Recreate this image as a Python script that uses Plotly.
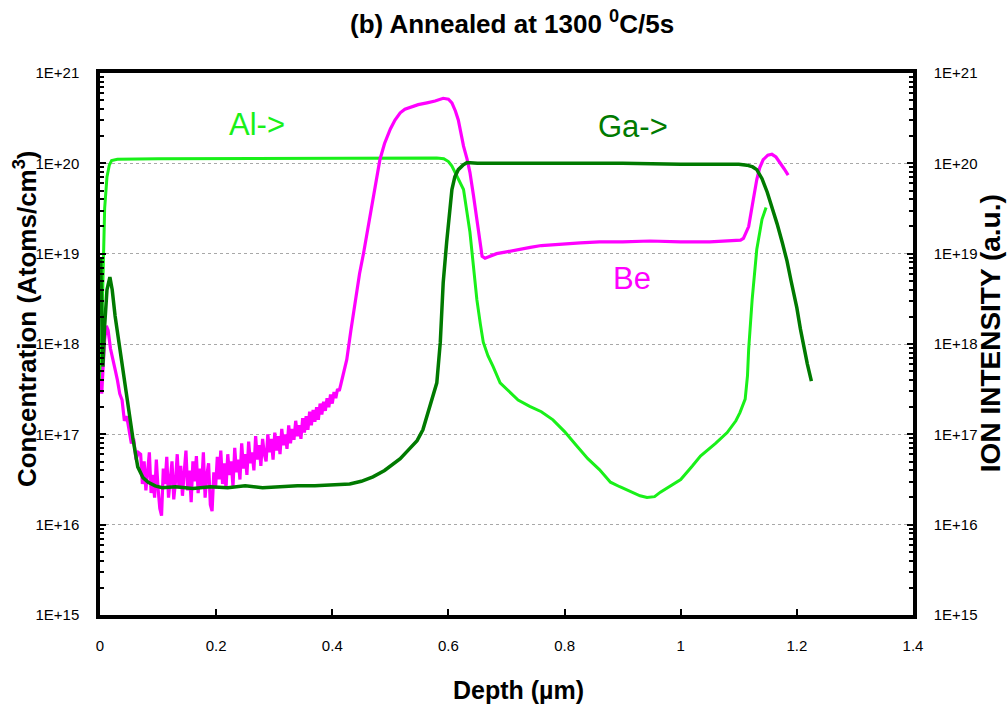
import numpy as np
import plotly.graph_objects as go

# SIMS depth profiles: depth in µm, concentration given as log10(atoms/cm^3)
al_depth = [0.001, 0.003, 0.005, 0.008, 0.012, 0.016, 0.020, 0.030, 0.10, 0.30, 0.50, 0.58,
            0.592, 0.600, 0.606, 0.615, 0.626, 0.637, 0.643, 0.649, 0.655, 0.660, 0.668,
            0.677, 0.689, 0.70, 0.72, 0.74, 0.76, 0.78, 0.80, 0.82, 0.84, 0.86, 0.879,
            0.895, 0.913, 0.930, 0.942, 0.955, 0.965, 0.98, 1.00, 1.02, 1.034, 1.06, 1.08,
            1.095, 1.102, 1.111, 1.115, 1.117, 1.123, 1.131, 1.140, 1.147]
al_log = [17.6, 18.16, 18.9, 19.5, 19.85, 19.98, 20.03, 20.045, 20.05, 20.055, 20.06, 20.06,
          20.05, 20.02, 19.97, 19.86, 19.71, 19.24, 18.85, 18.49, 18.22, 18.02, 17.87,
          17.75, 17.57, 17.50, 17.38, 17.31, 17.25, 17.16, 17.03, 16.88, 16.73, 16.61, 16.47,
          16.42, 16.37, 16.32, 16.30, 16.31, 16.36, 16.42, 16.50, 16.65, 16.76, 16.90, 17.02,
          17.15, 17.24, 17.39, 17.65, 17.94, 18.49, 19.05, 19.38, 19.51]

ga_depth = [0.001, 0.003, 0.005, 0.008, 0.012, 0.017, 0.021, 0.026, 0.034, 0.043, 0.050,
            0.057, 0.065, 0.074, 0.083, 0.095, 0.107, 0.13, 0.16, 0.19, 0.22, 0.25, 0.28,
            0.31, 0.34, 0.37, 0.40, 0.43, 0.45, 0.47, 0.49, 0.517, 0.53, 0.546, 0.556,
            0.563, 0.572, 0.580, 0.586, 0.591, 0.597, 0.602, 0.606, 0.611, 0.617, 0.625,
            0.632, 0.65, 0.70, 0.80, 0.90, 1.00, 1.10, 1.114, 1.124, 1.131, 1.14, 1.149,
            1.157, 1.166, 1.175, 1.183, 1.19, 1.20, 1.206, 1.212, 1.218, 1.225]
ga_log = [18.95, 18.2, 17.75, 18.2, 18.6, 18.74, 18.6, 18.31, 17.95, 17.57, 17.25,
          16.94, 16.64, 16.52, 16.47, 16.43, 16.41, 16.42, 16.40, 16.42, 16.41, 16.43, 16.41,
          16.42, 16.43, 16.43, 16.44, 16.45, 16.48, 16.53, 16.60, 16.73, 16.82, 16.93, 17.05,
          17.20, 17.38, 17.57, 18.02, 18.68, 19.13, 19.45, 19.71, 19.85, 19.93, 19.98,
          20.01, 20.00, 20.00, 20.00, 20.00, 19.99, 19.99, 19.98, 19.96, 19.93, 19.83, 19.68,
          19.52, 19.33, 19.12, 18.92, 18.70, 18.40, 18.17, 17.97, 17.78, 17.59]

be_depth = [0.001, 0.003, 0.005, 0.008, 0.011, 0.014, 0.018, 0.022, 0.026, 0.030, 0.034,
            0.038, 0.042, 0.046, 0.050, 0.054, 0.058, 0.062, 0.066,
            0.070, 0.073, 0.076, 0.079, 0.082, 0.085, 0.088, 0.091, 0.094, 0.097,
            0.100, 0.103, 0.106, 0.109, 0.112, 0.115, 0.118, 0.121, 0.124, 0.127,
            0.130, 0.133, 0.136, 0.139, 0.142, 0.145, 0.148, 0.151, 0.154, 0.157,
            0.160, 0.163, 0.166, 0.169, 0.172, 0.175, 0.178, 0.181, 0.184, 0.187,
            0.190, 0.193, 0.196, 0.199, 0.202, 0.205, 0.208, 0.211, 0.214, 0.217,
            0.220, 0.223, 0.226, 0.229, 0.232, 0.235, 0.238, 0.241, 0.244, 0.247,
            0.250, 0.253, 0.256, 0.259, 0.262, 0.265, 0.268, 0.271, 0.274, 0.277,
            0.280, 0.283, 0.286, 0.289, 0.292, 0.295, 0.298, 0.301, 0.304, 0.307,
            0.310, 0.313, 0.316, 0.319, 0.322, 0.325, 0.328, 0.331, 0.334, 0.337,
            0.340, 0.343, 0.346, 0.349, 0.352, 0.355, 0.358, 0.361, 0.364, 0.367,
            0.370, 0.373, 0.376, 0.379, 0.382, 0.385, 0.388, 0.391, 0.394, 0.397,
            0.400, 0.403, 0.406, 0.409, 0.412, 0.415, 0.418, 0.421, 0.425, 0.432,
            0.440, 0.447, 0.454, 0.461, 0.468, 0.475, 0.482, 0.490, 0.500, 0.508, 0.517,
            0.525, 0.534, 0.548, 0.563, 0.577, 0.591, 0.600, 0.606, 0.612, 0.617, 0.626,
            0.632, 0.637, 0.643, 0.649, 0.654, 0.658, 0.663, 0.670, 0.683, 0.70, 0.72,
            0.741, 0.76, 0.78, 0.80, 0.827, 0.86, 0.90, 0.947, 1.00, 1.05, 1.09, 1.103,
            1.108, 1.112, 1.117, 1.125, 1.131, 1.136, 1.142, 1.150, 1.157, 1.164, 1.171,
            1.178, 1.185]
be_log = [17.6, 17.45, 17.7, 18.05, 18.2, 18.15, 17.95, 17.85, 17.72, 17.6, 17.45,
          17.38, 17.15, 17.2, 17.02, 16.9, 16.95, 16.72, 16.8,
          16.78, 16.45, 16.70, 16.38, 16.62, 16.80, 16.35, 16.55, 16.30, 16.72,
          16.40, 16.18, 16.10, 16.62, 16.45, 16.75, 16.30, 16.55, 16.70, 16.28,
          16.48, 16.78, 16.40, 16.65, 16.32, 16.58, 16.82, 16.38, 16.60, 16.25,
          16.70, 16.48, 16.76, 16.35, 16.62, 16.42, 16.80, 16.30, 16.55, 16.68,
          16.22, 16.15, 16.58, 16.40, 16.75, 16.50, 16.82, 16.45, 16.68, 16.40,
          16.78, 16.55, 16.70, 16.42, 16.85, 16.58, 16.72, 16.50, 16.90, 16.62,
          16.78, 16.55, 16.92, 16.68, 16.80, 16.60, 16.98, 16.72, 16.88, 16.65,
          16.95, 16.78, 16.70, 17.00, 16.80, 16.95, 16.72, 17.02, 16.82, 16.98,
          16.78, 17.06, 16.88, 17.00, 16.84, 17.10, 16.90, 17.06, 16.94, 17.15,
          16.98, 17.10, 16.95, 17.18, 17.02, 17.20, 17.05, 17.25, 17.10, 17.27,
          17.14, 17.30, 17.16, 17.34, 17.22, 17.36, 17.26, 17.40, 17.30, 17.44,
          17.34, 17.47, 17.40, 17.50, 17.48, 17.56, 17.64, 17.72, 17.83, 18.15,
          18.49, 18.78, 19.01, 19.28, 19.52, 19.8, 20.04, 20.22, 20.38, 20.48, 20.56,
          20.60, 20.62, 20.65, 20.67, 20.69, 20.72, 20.71, 20.67, 20.58, 20.48, 20.19,
          20.05, 19.90, 19.65, 19.38, 19.15, 18.97, 18.95, 18.97, 19.00, 19.02, 19.04,
          19.07, 19.09, 19.10, 19.11, 19.12, 19.13, 19.13, 19.14, 19.13, 19.13, 19.14, 19.15,
          19.17, 19.22, 19.30, 19.60, 19.82, 19.95, 20.04, 20.09, 20.10, 20.07, 20.01,
          19.94, 19.87]

decades = [15, 16, 17, 18, 19, 20, 21]
decade_labels = ["1E+15", "1E+16", "1E+17", "1E+18", "1E+19", "1E+20", "1E+21"]
depth_ticks = [0, 0.2, 0.4, 0.6, 0.8, 1, 1.2, 1.4]
depth_labels = ["0", "0.2", "0.4", "0.6", "0.8", "1", "1.2", "1.4"]

FONT = "Arial, Liberation Sans, sans-serif"
AL_COLOR = "#19F019"
GA_COLOR = "#007A00"
BE_COLOR = "#FF00FF"

major_vals = [10.0 ** d for d in decades]
minor_vals = [k * 10.0 ** d for d in decades[:-1] for k in range(2, 10)]

fig = go.Figure()
fig.add_trace(go.Scatter(x=al_depth, y=np.power(10.0, al_log), mode="lines", name="Al",
                         line=dict(color=AL_COLOR, width=3)))
fig.add_trace(go.Scatter(x=be_depth, y=np.power(10.0, be_log), mode="lines", name="Be",
                         line=dict(color=BE_COLOR, width=3.2)))
# Ga is plotted against the right-hand (ion intensity) axis, which shares the same scale
fig.add_trace(go.Scatter(x=ga_depth, y=np.power(10.0, ga_log), mode="lines", name="Ga",
                         line=dict(color=GA_COLOR, width=3.5), yaxis="y2"))

yaxis_common = dict(
    type="log", range=[15, 21],
    tickmode="array", tickvals=major_vals, ticktext=decade_labels,
    ticks="inside", ticklen=6, tickwidth=1.5, tickcolor="black",
    minor=dict(tickmode="array", tickvals=minor_vals, ticks="inside", ticklen=4,
               tickwidth=1.5, tickcolor="black", showgrid=False),
    tickfont=dict(family=FONT, size=15, color="black"),
    showline=True, linecolor="black", linewidth=3.5,
    zeroline=False, fixedrange=True,
)

fig.update_layout(
    width=1008, height=708,
    margin=dict(l=100, r=95, t=73, b=93),
    paper_bgcolor="white", plot_bgcolor="white",
    showlegend=False,
    title=dict(text="<b>(b) Annealed at 1300 <sup>0</sup>C/5s</b>", x=0.508, xanchor="center",
               y=1 - 24 / 708, yanchor="middle", yref="container",
               font=dict(family=FONT, size=26, color="black")),
    xaxis=dict(range=[0, 1.4], tickmode="array", tickvals=depth_ticks,
               ticktext=depth_labels,
               ticks="inside", ticklen=6, tickwidth=1.5, tickcolor="black",
               tickfont=dict(family=FONT, size=15, color="black"),
               showline=True, linecolor="black", linewidth=3.5, mirror=True,
               showgrid=False, zeroline=False, ticklabelstandoff=14),
    yaxis=dict(**yaxis_common, side="left", showgrid=True, gridcolor="#a8a8a8",
               griddash="dot", gridwidth=1, ticklabelstandoff=14),
    yaxis2=dict(**yaxis_common, side="right", overlaying="y", showgrid=False,
                ticklabelstandoff=14),
)

# axis titles
fig.add_annotation(text="<b>Depth (µm)</b>", xref="paper", yref="paper", x=0.515,
                   y=-75 / 542, yanchor="middle", showarrow=False,
                   font=dict(family=FONT, size=25, color="black"))
fig.add_annotation(text="<b>Concentration (Atoms/cm<sup>3</sup>)</b>", xref="paper",
                   yref="paper", x=-75 / 813, y=0.546, xanchor="center", yanchor="middle",
                   textangle=-90, showarrow=False,
                   font=dict(family=FONT, size=26, color="black"))
fig.add_annotation(text="<b>ION INTENSITY (a.u.)</b>", xref="paper", yref="paper",
                   x=1 + 77 / 813, y=0.52, xanchor="center", yanchor="middle",
                   textangle=-90, showarrow=False,
                   font=dict(family=FONT, size=28, color="black"))

# species labels
fig.add_annotation(text="Al->", x=0.27, y=20.43, xref="x", yref="y", showarrow=False,
                   font=dict(family=FONT, size=31, color=AL_COLOR))
fig.add_annotation(text="Ga->", x=0.918, y=20.41, xref="x", yref="y", showarrow=False,
                   font=dict(family=FONT, size=31, color=GA_COLOR))
fig.add_annotation(text="Be", x=0.916, y=18.72, xref="x", yref="y", showarrow=False,
                   font=dict(family=FONT, size=31, color=BE_COLOR))

fig.write_html("out.html")
